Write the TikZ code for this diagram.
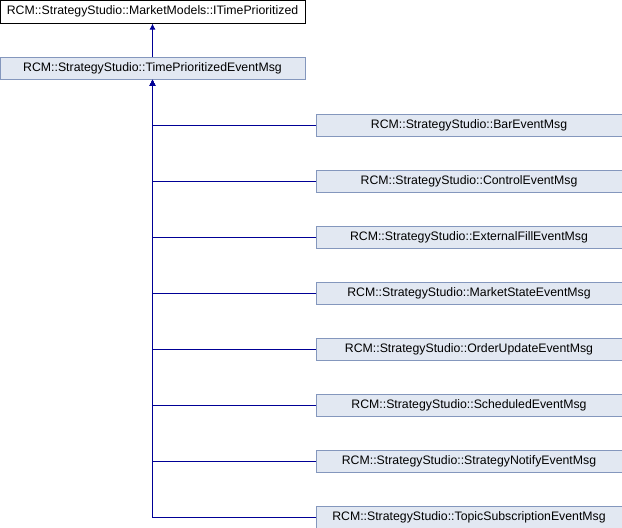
\documentclass[tikz,border=0pt]{standalone}
\usepackage{fontspec}
\setmainfont{Liberation Sans}
\usetikzlibrary{arrows.meta}
\definecolor{boxfill}{HTML}{E2E8F2}
\definecolor{boxline}{HTML}{8497BD}
\definecolor{edgeblue}{HTML}{000096}
\tikzset{
    classbox/.style={draw=boxline, fill=boxfill, line width=1pt, inner sep=0pt,
        minimum width=306pt, minimum height=22pt, font=\fontsize{12.3}{14}\selectfont},
    topbox/.style={classbox, draw=black, fill=white, minimum width=305pt, minimum height=23pt},
    inherit/.style={draw=edgeblue, line width=1pt, -{Latex[length=6pt,width=6pt]}}
}
\begin{document}
\begin{tikzpicture}[x=1pt,y=-1pt]
        \useasboundingbox (0,0) rectangle (622,528);
        \node [topbox] (itp) at (152.5,11.5) {RCM::StrategyStudio::MarketModels::ITimePrioritized};
        \node [classbox, minimum width=305pt] (tpem) at (152.5,68) {RCM::StrategyStudio::TimePrioritizedEventMsg};
        \node [classbox] (bar) at (469,125) {RCM::StrategyStudio::BarEventMsg};
        \node [classbox] (ctrl) at (469,181) {RCM::StrategyStudio::ControlEventMsg};
        \node [classbox] (extfill) at (469,237) {RCM::StrategyStudio::ExternalFillEventMsg};
        \node [classbox] (mktstate) at (469,293) {RCM::StrategyStudio::MarketStateEventMsg};
        \node [classbox] (ordupd) at (469,349) {RCM::StrategyStudio::OrderUpdateEventMsg};
        \node [classbox] (sched) at (469,405) {RCM::StrategyStudio::ScheduledEventMsg};
        \node [classbox] (stratnot) at (469,461) {RCM::StrategyStudio::StrategyNotifyEventMsg};
        \node [classbox] (topicsub) at (469,517) {RCM::StrategyStudio::TopicSubscriptionEventMsg};
        \draw [inherit] (tpem.north) -- (itp.south);
        \draw [inherit] (bar.west) -| (tpem.south);
        \draw [inherit] (ctrl.west) -| (tpem.south);
        \draw [inherit] (extfill.west) -| (tpem.south);
        \draw [inherit] (mktstate.west) -| (tpem.south);
        \draw [inherit] (ordupd.west) -| (tpem.south);
        \draw [inherit] (sched.west) -| (tpem.south);
        \draw [inherit] (stratnot.west) -| (tpem.south);
        \draw [inherit] (topicsub.west) -| (tpem.south);
    \end{tikzpicture}
\end{document}
